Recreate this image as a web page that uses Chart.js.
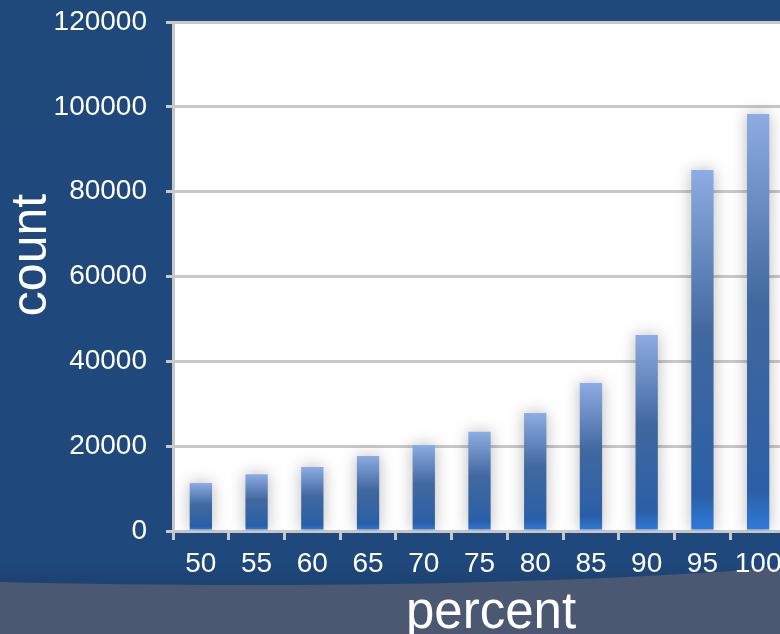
<!DOCTYPE html>
<html>
<head>
<meta charset="utf-8">
<script src="https://cdn.jsdelivr.net/npm/chart.js@4/dist/chart.umd.min.js"></script>
<style>
  html, body { margin: 0; padding: 0; overflow: hidden; background: #1f487b; }
  #chart { position: absolute; left: 0; top: 0; }
</style>
</head>
<body>
<canvas id="chart" width="786" height="634"></canvas>
<script>
const categories = ["50", "55", "60", "65", "70", "75", "80", "85", "90", "95", "100"];
const counts = [11300, 13400, 15100, 17700, 20300, 23400, 27800, 34900, 46200, 85100, 98300];
const yTicks = [0, 20000, 40000, 60000, 80000, 100000, 120000];
const xTitle = "percent";
const yTitle = "count";

const gridGrey = "#c8c8c8";
const fontFamily = "'Liberation Sans', Arial, sans-serif";

// dark blue slide background with the grey swoosh at the bottom, white plot area
const backdrop = {
  id: "backdrop",
  beforeDraw(chart) {
    const { ctx, width, height, chartArea } = chart;
    ctx.save();
    const bg = ctx.createLinearGradient(0, 0, 0, height);
    bg.addColorStop(0, "#1f487b");
    bg.addColorStop(0.88, "#1f497d");
    bg.addColorStop(0.92, "#1d4272");
    ctx.fillStyle = bg;
    ctx.fillRect(0, 0, width, height);

    ctx.fillStyle = "#4b5872";
    ctx.beginPath();
    ctx.moveTo(0, 582);
    ctx.bezierCurveTo(250, 588, 550, 586, width, 567);
    ctx.lineTo(width, height);
    ctx.lineTo(0, height);
    ctx.closePath();
    ctx.fill();

    ctx.fillStyle = "#ffffff";
    ctx.fillRect(chartArea.left, chartArea.top, chartArea.right - chartArea.left, chartArea.bottom - chartArea.top);
    ctx.restore();
  }
};

// soft glow behind the bars
const barGlow = {
  id: "barGlow",
  beforeDatasetsDraw(chart) {
    const ctx = chart.ctx;
    ctx.save();
    ctx.shadowColor = "rgba(0, 0, 0, 0.28)";
    ctx.shadowBlur = 16;
  },
  afterDatasetsDraw(chart) {
    chart.ctx.restore();
  }
};

// axis titles: in the original they are not centred on the plot, so place them by hand
const axisTitles = {
  id: "axisTitles",
  afterDraw(chart) {
    const ctx = chart.ctx;
    ctx.save();
    ctx.fillStyle = "#ffffff";
    ctx.textAlign = "center";
    ctx.textBaseline = "alphabetic";

    ctx.font = "51px " + fontFamily;
    ctx.fillText(xTitle, 491, 628);

    ctx.translate(46, 255);
    ctx.rotate(-Math.PI / 2);
    ctx.font = "50px " + fontFamily;
    ctx.fillText(yTitle, 0, 0);
    ctx.restore();
  }
};

function barFill(context) {
  const chart = context.chart;
  if (!chart.chartArea || !chart.scales.y) return "#3d6aa8";
  const y = chart.scales.y;
  const top = y.getPixelForValue(context.raw);
  const bottom = y.getPixelForValue(0);
  const g = chart.ctx.createLinearGradient(0, top, 0, bottom);
  g.addColorStop(0, "#8dace3");
  g.addColorStop(0.45, "#4169a0");
  g.addColorStop(0.9, "#2a5fa6");
  g.addColorStop(1, "#2f7bdc");
  return g;
}

new Chart(document.getElementById("chart"), {
  type: "bar",
  data: {
    labels: categories,
    datasets: [{
      data: counts,
      backgroundColor: barFill,
      borderWidth: 0,
      barPercentage: 0.4,
      categoryPercentage: 1
    }]
  },
  options: {
    responsive: false,
    animation: false,
    layout: { padding: { top: 22, left: 0, right: 0, bottom: 0 } },
    plugins: {
      legend: { display: false },
      tooltip: { enabled: false }
    },
    scales: {
      x: {
        afterFit(scale) {
          scale.height = 103;
          scale.paddingLeft = 0;
          scale.paddingRight = 0;
        },
        grid: {
          drawOnChartArea: false,
          color: gridGrey,
          lineWidth: 3,
          tickLength: 9
        },
        border: { color: gridGrey, width: 3 },
        ticks: {
          color: "#ffffff",
          padding: 7,
          maxRotation: 0,
          font: { family: fontFamily, size: 28 }
        }
      },
      y: {
        min: 0,
        max: 120000,
        afterBuildTicks(scale) {
          scale.ticks = yTicks.map(v => ({ value: v }));
        },
        afterFit(scale) {
          scale.width = 173;
          scale.paddingTop = 0;
          scale.paddingBottom = 0;
        },
        grid: {
          color: gridGrey,
          lineWidth: 3,
          tickLength: 7
        },
        border: { color: gridGrey, width: 3 },
        ticks: {
          color: "#ffffff",
          padding: 19,
          font: { family: fontFamily, size: 28 },
          callback: v => String(v)
        }
      }
    }
  },
  plugins: [backdrop, barGlow, axisTitles]
});
</script>
</body>
</html>
